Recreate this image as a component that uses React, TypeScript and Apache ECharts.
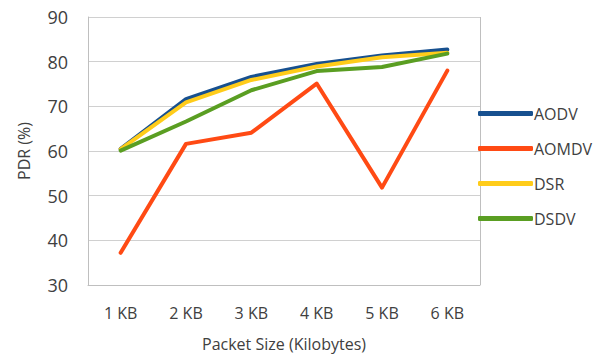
import React, { useEffect, useRef } from "react";
import * as echarts from "echarts";

const categories = ["1 KB", "2 KB", "3 KB", "4 KB", "5 KB", "6 KB"];
const aodv = [60.5, 71.6, 76.6, 79.5, 81.4, 82.7];
const aomdv = [37.2, 61.6, 64.1, 75.1, 51.8, 78.0];
const dsr = [60.4, 70.9, 75.9, 78.9, 81.0, 82.0];
const dsdv = [60.1, 66.6, 73.6, 77.9, 78.8, 81.8];
const yTicks = { min: 30, max: 90, interval: 10 };

const seriesDefs = [
  { name: "AODV", data: aodv, color: "#17508f" },
  { name: "AOMDV", data: aomdv, color: "#ff4a14" },
  { name: "DSR", data: dsr, color: "#ffcc1a" },
  { name: "DSDV", data: dsdv, color: "#5a9e22" },
];

const font = "'Open Sans', 'Noto Sans', sans-serif";
const textColor = "#404040";

export default function App() {
  const ref = useRef<HTMLDivElement>(null);

  useEffect(() => {
    if (!ref.current) return;
    const chart = echarts.init(ref.current, undefined, { renderer: "svg" });
    chart.setOption({
      animation: false,
      backgroundColor: "#ffffff",
      textStyle: { fontFamily: font, color: textColor },
      grid: { left: 88, right: 115, top: 17, bottom: 73 },
      legend: {
        orient: "vertical",
        left: 473,
        top: 98,
        itemWidth: 55,
        itemHeight: 5,
        itemGap: 14,
        icon: "roundRect",
        textStyle: { fontFamily: font, fontSize: 16, color: textColor, lineHeight: 21, padding: [0, 0, 0, -4] },
        data: seriesDefs.map((s) => s.name),
      },
      xAxis: {
        type: "category",
        data: categories,
        boundaryGap: true,
        name: "Packet Size (Kilobytes)",
        nameLocation: "middle",
        nameGap: 51,
        nameTextStyle: { fontFamily: font, fontSize: 16, color: textColor },
        axisLine: { lineStyle: { color: "#bfbfbf", width: 1 } },
        axisTick: { show: false },
        axisLabel: { fontFamily: font, fontSize: 16, color: textColor, margin: 20 },
      },
      yAxis: {
        type: "value",
        min: yTicks.min,
        max: yTicks.max,
        interval: yTicks.interval,
        name: "PDR (%)",
        nameLocation: "middle",
        nameGap: 56,
        nameTextStyle: { fontFamily: font, fontSize: 16, color: textColor },
        axisLine: { show: true, lineStyle: { color: "#bfbfbf", width: 1 } },
        axisTick: { show: false },
        axisLabel: { fontFamily: font, fontSize: 18, color: textColor, margin: 20 },
        splitLine: { lineStyle: { color: "#d0d0d0", width: 1 } },
      },
      series: seriesDefs.map((s) => ({
        name: s.name,
        type: "line",
        data: s.data,
        symbol: "none",
        color: s.color,
        lineStyle: { width: 4, color: s.color, cap: "round", join: "round" },
      })),
      graphic: [
        {
          type: "line",
          shape: { x1: 480.5, y1: 17, x2: 480.5, y2: 285 },
          style: { stroke: "#bfbfbf", lineWidth: 1 },
          silent: true,
        },
      ],
    });
    return () => chart.dispose();
  }, []);

  return <div ref={ref} style={{ width: 595, height: 358, position: "absolute", left: 0, top: 0 }} />;
}
